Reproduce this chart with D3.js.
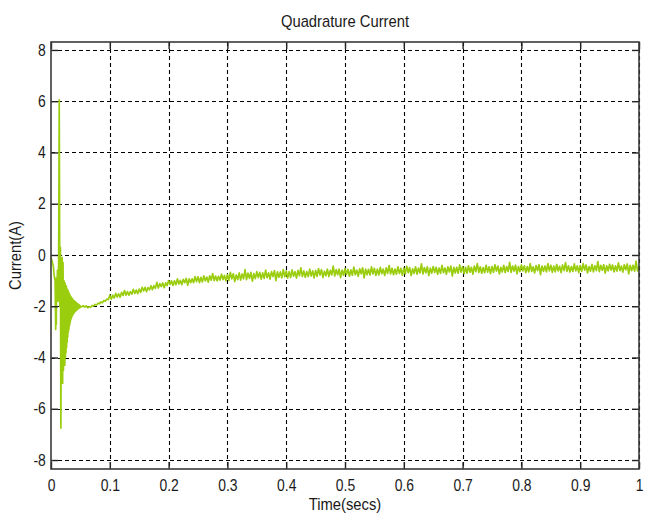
<!DOCTYPE html>
<html>
<head>
<meta charset="utf-8">
<script src="https://cdn.jsdelivr.net/npm/d3@7"></script>
<style>
  html, body { margin: 0; padding: 0; background: #ffffff; }
  svg { display: block; }
  text { font-family: 'Liberation Sans', Arial, sans-serif; fill: #1a1a1a; }
</style>
</head>
<body>
<svg id="chart" width="646" height="519"></svg>
<script>
// Quadrature current (A) against simulation time (s)

const titleText = "Quadrature  Current";
const xLabel = "Time(secs)";
const yLabel = "Current(A)";

const xTicks = [0, 0.1, 0.2, 0.3, 0.4, 0.5, 0.6, 0.7, 0.8, 0.9, 1];
const yTicks = [-8, -6, -4, -2, 0, 2, 4, 6, 8];

// start-up transient, irregular samples
const transientTime = [
  0, 0.002, 0.004, 0.005, 0.006, 0.007, 0.008, 0.0085, 0.009, 0.0095,
  0.010, 0.011, 0.012, 0.013, 0.014, 0.015, 0.016, 0.0168, 0.0176, 0.0184,
  0.0190, 0.0198, 0.0205, 0.0212, 0.0220,
  0.023, 0.0235, 0.024, 0.0245, 0.025, 0.0255, 0.026, 0.0265, 0.027, 0.0275,
  0.028, 0.0285, 0.029, 0.0295, 0.030, 0.0305, 0.031, 0.0315, 0.032, 0.0325,
  0.033, 0.0335, 0.034, 0.0345, 0.035, 0.0355, 0.036, 0.0365, 0.037, 0.0375,
  0.038, 0.0385, 0.039, 0.0395, 0.040, 0.0405, 0.041, 0.0415, 0.042, 0.0425,
  0.043, 0.0435, 0.044, 0.0445, 0.045, 0.0455, 0.046, 0.0465, 0.047, 0.0475,
  0.048, 0.0485, 0.049, 0.0495, 0.050,
  0.0525, 0.055, 0.0575, 0.060, 0.0625, 0.065, 0.0675, 0.070, 0.0725, 0.075,
  0.0775, 0.080, 0.0825, 0.085, 0.0875, 0.090, 0.0925, 0.095, 0.0975
];
const transientCurrent = [
  -0.1, -0.25, -0.45, -0.7, -0.9, -1.0, -2.9, -0.9, -2.7, -1.0,
  -1.5, -0.6, -1.8, -0.4, 6.05, -2.0, 0.3, -6.75, -1.0, -4.2,
  -0.1, -5.0, -0.3, -4.5, -1.0,
  -1.2, -4.3, -1.1, -4.0, -1.25, -3.8, -1.2, -3.6, -1.3, -3.4,
  -1.35, -3.2, -1.4, -3.0, -1.45, -2.9, -1.5, -2.75, -1.55, -2.65,
  -1.6, -2.55, -1.63, -2.48, -1.66, -2.42, -1.7, -2.36, -1.73, -2.32,
  -1.76, -2.28, -1.78, -2.25, -1.8, -2.22, -1.82, -2.2, -1.84, -2.17,
  -1.86, -2.15, -1.88, -2.13, -1.9, -2.11, -1.92, -2.09, -1.93, -2.07,
  -1.95, -2.06, -1.96, -2.05, -2.0,
  -2.02, -1.98, -2.03, -1.99, -2.06, -2.02, -2.04, -1.97, -1.99, -1.93,
  -1.95, -1.88, -1.90, -1.83, -1.86, -1.78, -1.80, -1.72, -1.74
];

// settling period, fixed sample step from 0.1 s to 1 s
const settleStart = 0.1;
const settleStep = 0.0025;
const settleCurrent = [
  -1.57,-1.73,-1.57,-1.68,-1.50,-1.64,-1.52,-1.65,-1.46,-1.58,-1.39,-1.57,-1.43,-1.57,-1.43,-1.53,-1.34,-1.50,-1.37,-1.51,
  -1.33,-1.46,-1.26,-1.40,-1.26,-1.43,-1.27,-1.36,-1.20,-1.35,-1.20,-1.30,-1.07,-1.29,-1.12,-1.23,-1.09,-1.28,-1.09,-1.19,
  -1.00,-1.15,-1.01,-1.19,-1.01,-1.16,-0.93,-1.13,-0.99,-1.16,-0.95,-1.08,-0.91,-1.18,-0.93,-1.08,-0.93,-1.08,-0.84,-1.04,
  -0.85,-1.08,-0.87,-1.05,-0.81,-1.01,-0.86,-1.06,-0.81,-0.98,-0.73,-1.00,-0.82,-1.01,-0.83,-0.98,-0.75,-0.96,-0.80,-1.01,
  -0.76,-0.99,-0.68,-0.93,-0.73,-1.04,-0.78,-0.96,-0.70,-0.98,-0.74,-0.93,-0.57,-0.96,-0.71,-0.91,-0.68,-1.02,-0.73,-0.92,
  -0.65,-0.88,-0.68,-0.94,-0.70,-0.91,-0.59,-0.88,-0.70,-0.94,-0.65,-0.84,-0.61,-1.00,-0.66,-0.87,-0.66,-0.89,-0.57,-0.85,
  -0.62,-0.90,-0.65,-0.88,-0.58,-0.83,-0.65,-0.90,-0.60,-0.81,-0.50,-0.84,-0.62,-0.87,-0.65,-0.84,-0.55,-0.82,-0.62,-0.89,
  -0.60,-0.83,-0.53,-0.78,-0.57,-0.88,-0.63,-0.81,-0.55,-0.84,-0.60,-0.78,-0.43,-0.82,-0.57,-0.77,-0.55,-0.88,-0.59,-0.79,
  -0.53,-0.76,-0.56,-0.83,-0.58,-0.79,-0.47,-0.77,-0.59,-0.83,-0.54,-0.73,-0.50,-0.89,-0.55,-0.77,-0.56,-0.78,-0.46,-0.74,
  -0.52,-0.80,-0.55,-0.78,-0.48,-0.73,-0.55,-0.80,-0.50,-0.72,-0.41,-0.74,-0.52,-0.77,-0.55,-0.75,-0.46,-0.72,-0.52,-0.79,
  -0.51,-0.74,-0.44,-0.69,-0.49,-0.80,-0.54,-0.72,-0.46,-0.75,-0.51,-0.70,-0.35,-0.74,-0.49,-0.69,-0.46,-0.80,-0.51,-0.71,
  -0.45,-0.68,-0.48,-0.75,-0.51,-0.72,-0.40,-0.69,-0.51,-0.75,-0.46,-0.66,-0.43,-0.82,-0.48,-0.70,-0.48,-0.71,-0.39,-0.67,
  -0.45,-0.73,-0.48,-0.71,-0.42,-0.67,-0.48,-0.75,-0.43,-0.65,-0.34,-0.68,-0.46,-0.71,-0.49,-0.69,-0.40,-0.67,-0.46,-0.73,
  -0.45,-0.68,-0.38,-0.63,-0.43,-0.74,-0.48,-0.66,-0.40,-0.69,-0.45,-0.64,-0.29,-0.68,-0.43,-0.63,-0.40,-0.74,-0.45,-0.65,
  -0.39,-0.62,-0.42,-0.69,-0.45,-0.66,-0.34,-0.64,-0.46,-0.70,-0.41,-0.61,-0.38,-0.77,-0.43,-0.64,-0.43,-0.66,-0.34,-0.62,
  -0.40,-0.68,-0.43,-0.66,-0.37,-0.62,-0.44,-0.69,-0.39,-0.61,-0.30,-0.64,-0.42,-0.67,-0.45,-0.64,-0.35,-0.62,-0.42,-0.69,
  -0.41,-0.64,-0.34,-0.59,-0.39,-0.70,-0.45,-0.63,-0.37,-0.66,-0.42,-0.61,-0.26,-0.65,-0.40,-0.60,-0.38,-0.71,-0.42,-0.62,
  -0.36,-0.59,-0.39,-0.66,-0.42,-0.63,-0.31,-0.61,-0.43,-0.67,-0.38,-0.58,-0.35,-0.74,-0.40,-0.61,-0.40,-0.63,-0.24,-0.62,
  -0.45
];

// assemble the full trace
const series = transientTime.map((t, i) => ({ t, v: transientCurrent[i] }))
  .concat(settleCurrent.map((v, i) => ({ t: settleStart + i * settleStep, v })));

const svg = d3.select("#chart");
const box = { left: 51, right: 639, top: 42, bottom: 469 };
const narrow = "scale(0.87,1)";

const x = d3.scaleLinear().domain([0, 1]).range([box.left, box.right]);
const y = d3.scaleLinear().domain([-8.35, 8.31]).range([box.bottom, box.top]);

// dashed grid
const grid = svg.append("g").attr("class", "grid")
  .attr("stroke", "#000").attr("stroke-width", 1.1).attr("stroke-dasharray", "4,3");
grid.selectAll("line.gx").data(xTicks.filter(d => d > 0)).join("line")
  .attr("class", "gx")
  .attr("x1", d => Math.round(x(d)) + 0.5).attr("x2", d => Math.round(x(d)) + 0.5)
  .attr("y1", box.top).attr("y2", box.bottom);
grid.selectAll("line.gy").data(yTicks).join("line")
  .attr("class", "gy")
  .attr("y1", d => Math.round(y(d)) + 0.5).attr("y2", d => Math.round(y(d)) + 0.5)
  .attr("x1", box.left).attr("x2", box.right);

// current trace
const line = d3.line().x(d => x(d.t)).y(d => y(d.v));
svg.append("path")
  .datum(series)
  .attr("fill", "none")
  .attr("stroke", "#9acd0e")
  .attr("stroke-width", 1.7)
  .attr("stroke-linejoin", "round")
  .attr("d", line);

// axes with inward ticks on all four sides
const tickLen = 7;
const fmt = d => String(d);

const bottomAxis = svg.append("g")
  .attr("transform", `translate(0,${box.bottom})`)
  .call(d3.axisBottom(x).tickValues(xTicks).tickFormat(fmt)
    .tickSizeInner(-tickLen).tickSizeOuter(0).tickPadding(10.5));
const leftAxis = svg.append("g")
  .attr("transform", `translate(${box.left},0)`)
  .call(d3.axisLeft(y).tickValues(yTicks).tickFormat(fmt)
    .tickSizeInner(-tickLen).tickSizeOuter(0).tickPadding(6));
const topAxis = svg.append("g")
  .attr("transform", `translate(0,${box.top})`)
  .call(d3.axisTop(x).tickValues(xTicks).tickFormat("")
    .tickSizeInner(-tickLen).tickSizeOuter(0));
const rightAxis = svg.append("g")
  .attr("transform", `translate(${box.right},0)`)
  .call(d3.axisRight(y).tickValues(yTicks).tickFormat("")
    .tickSizeInner(-tickLen).tickSizeOuter(0));

[bottomAxis, leftAxis, topAxis, rightAxis].forEach(g => {
  g.select(".domain").remove();
  g.selectAll(".tick line").attr("stroke", "#222").attr("stroke-width", 1.4);
  g.selectAll(".tick text").attr("font-size", 16).attr("fill", "#1a1a1a")
    .attr("font-family", "'Liberation Sans', Arial, sans-serif")
    .attr("transform", narrow);
});

// axes box
svg.append("rect")
  .attr("x", box.left).attr("y", box.top)
  .attr("width", box.right - box.left).attr("height", box.bottom - box.top)
  .attr("fill", "none").attr("stroke", "#3a3a3a").attr("stroke-width", 1.6);

// title and axis labels
const midX = (box.left + box.right) / 2;
svg.append("text").attr("transform", `translate(${midX},27) ${narrow}`)
  .attr("text-anchor", "middle").attr("font-size", 17).text(titleText);
svg.append("text").attr("transform", `translate(${midX},510) ${narrow}`)
  .attr("text-anchor", "middle").attr("font-size", 17).text(xLabel);
svg.append("text")
  .attr("transform", `translate(21,${(box.top + box.bottom) / 2}) rotate(-90) ${narrow}`)
  .attr("text-anchor", "middle").attr("font-size", 17).text(yLabel);
</script>
</body>
</html>
